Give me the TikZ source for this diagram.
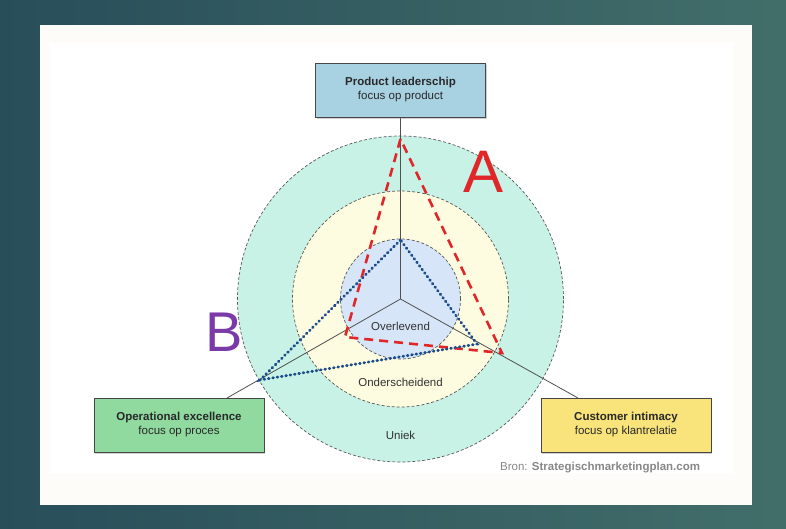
\documentclass[tikz,border=0pt]{standalone}
\usepackage{fontspec}
\setmainfont{Liberation Sans}
\usetikzlibrary{shadows}
\definecolor{bgL}{RGB}{40,78,90}
\definecolor{bgR}{RGB}{66,110,106}
\definecolor{cream}{RGB}{253,252,249}
\definecolor{ringOut}{RGB}{200,242,230}
\definecolor{ringMid}{RGB}{253,251,224}
\definecolor{ringIn}{RGB}{214,230,248}
\definecolor{prodcol}{RGB}{168,210,226}
\definecolor{opercol}{RGB}{144,218,160}
\definecolor{custcol}{RGB}{248,228,122}
\definecolor{redA}{RGB}{224,38,40}
\definecolor{blueB}{RGB}{28,76,138}
\definecolor{purpleB}{RGB}{122,58,168}
\definecolor{txt}{RGB}{40,40,40}
\definecolor{ringline}{RGB}{90,90,90}
\definecolor{spokeline}{RGB}{80,80,80}
\definecolor{boxline}{RGB}{70,70,70}
\definecolor{labeltxt}{RGB}{50,50,50}
\definecolor{srctxt}{RGB}{135,135,135}
\tikzset{
  ring/.style={draw=ringline, line width=0.7pt, dash pattern=on 3pt off 2pt},
  spoke/.style={draw=spokeline, line width=0.8pt},
  boxnode/.style={draw=boxline, line width=0.9pt, minimum width=170pt, minimum height=54pt, align=center, inner sep=0pt, text=txt, font=\fontsize{11.5}{14}\selectfont, drop shadow={opacity=0.35, shadow xshift=1.2pt, shadow yshift=-1.5pt}},
  ringlabel/.style={text=labeltxt, font=\fontsize{11.5}{13}\selectfont, inner sep=0pt},
  lineA/.style={draw=redA, line width=2.6pt, dash pattern=on 9pt off 6pt, line join=miter},
  lineB/.style={draw=blueB, line width=2.8pt, line cap=round, dash pattern=on 0.8pt off 3.6pt},
}
\begin{document}
\begin{tikzpicture}[x=1pt,y=-1pt]
\useasboundingbox (0,0) rectangle (786,528);
\shade[left color=bgL, right color=bgR] (0,0) rectangle (786,528);
\fill[cream] (40,25) rectangle (752,505);
\fill[white] (50,43) rectangle (733,473);
\coordinate (O) at (400.5,299);
% rings
\fill[ringOut] (O) circle (163pt);
\draw[ring] (O) circle (163pt);
\fill[ringMid] (O) circle (108pt);
\draw[ring] (O) circle (108pt);
\fill[ringIn] (O) circle (60pt);
\draw[ring] (O) circle (60pt);
% box positions
\coordinate (plc) at (400.5,90);
\coordinate (oec) at (179,425);
\coordinate (cic) at (626,425);
\coordinate (plb) at (400.5,117);
\coordinate (oet) at (227,398);
\coordinate (cit) at (578,398);
% spokes
\draw[spoke] (O) -- (plb);
\draw[spoke] (O) -- (oet);
\draw[spoke] (O) -- (cit);
% ring labels
\node[ringlabel] (ov) at (400.5,326) {Overlevend};
\node[ringlabel] (on) at (400.5,382) {Onderscheidend};
\node[ringlabel] (un) at (400.5,435) {Uniek};
% triangle A
\coordinate (A1) at (400.5,139);
\coordinate (A2) at (345,337);
\coordinate (A3) at (502,353);
\draw[lineA] (A1) -- (A2) -- (A3) -- cycle;
% triangle B
\coordinate (B1) at (400.5,240);
\coordinate (B2) at (260,380);
\coordinate (B3) at (477,344);
\draw[lineB] (B1) -- (B2) -- (B3) -- cycle;
% boxes
\node[boxnode, fill=prodcol] (pl) at (plc) {\textbf{Product leaderschip}\\focus op product};
\node[boxnode, fill=opercol] (oe) at (oec) {\textbf{Operational excellence}\\focus op proces};
\node[boxnode, fill=custcol] (ci) at (cic) {\textbf{Customer intimacy}\\focus op klantrelatie};
% letters
\node[text=redA, font=\fontsize{60}{60}\selectfont, inner sep=0pt] (la) at (484,172) {A};
\node[text=purpleB, font=\fontsize{56}{56}\selectfont, inner sep=0pt] (lb) at (224,332) {B};
% source
\node[anchor=west, inner sep=0pt, text=srctxt, font=\fontsize{11.5}{12}\selectfont] (src) at (500,468) {Bron: \textbf{Strategischmarketingplan.com}};
\end{tikzpicture}
\end{document}
